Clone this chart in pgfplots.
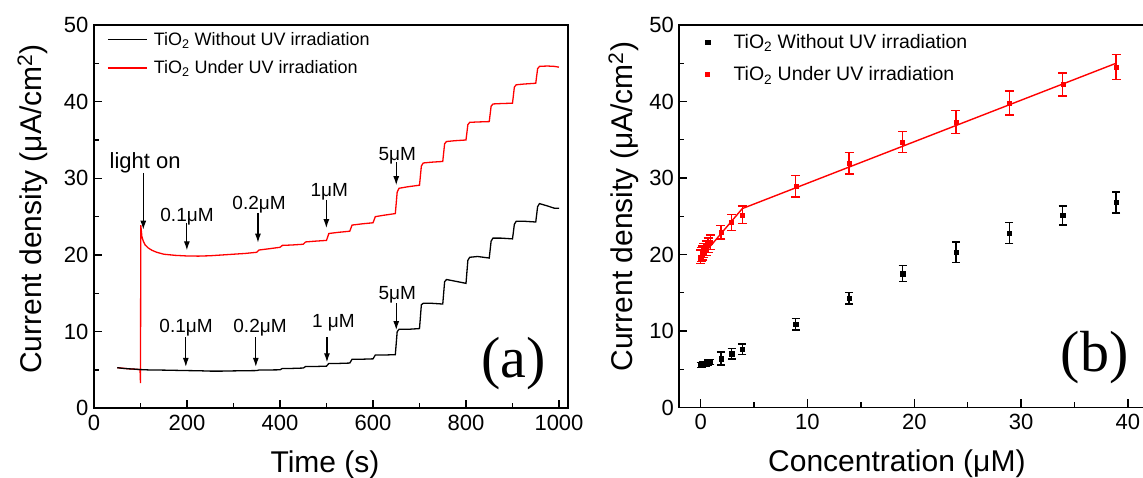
\documentclass[border=0pt]{standalone}
\usepackage{fontspec}
\setmainfont{Liberation Sans}
\newfontfamily\seriffont{Liberation Serif}
\usepackage{pgfplots}
\usepackage{pgfplotstable}
\pgfplotsset{compat=1.18}
\usetikzlibrary{arrows.meta}

\pgfplotstableread{
t y
50 5.30
60 5.22
75 5.15
90 5.10
100 5.05
120 5.00
150 4.98
175 4.95
200 4.92
225 4.90
250 4.85
275 4.85
300 4.88
325 4.90
350 4.92
355 5.00
375 5.00
400 5.02
405 5.20
425 5.20
450 5.25
455 5.45
475 5.45
500 5.50
505 5.85
525 5.85
550 5.90
555 6.40
575 6.40
600 6.45
605 6.95
625 6.95
648 7.00
652 10.0
656 10.3
675 10.3
700 10.4
704 13.5
708 13.7
725 13.7
750 13.6
754 16.5
758 16.8
775 16.6
800 16.3
804 19.3
808 19.7
825 19.8
850 19.6
854 21.8
858 22.2
875 22.2
900 22.1
904 24.0
908 24.4
925 24.4
950 24.3
954 26.3
958 26.7
975 26.4
990 26.1
1000 26.1
}\blackcurve

\pgfplotstableread{
t y
50 5.30
75 5.15
99 5.05
100 3.3
100.6 23.9
103 22.4
106 21.8
110 21.3
117 20.9
125 20.6
135 20.35
150 20.1
175 19.95
200 19.87
225 19.85
250 19.9
275 20.0
300 20.1
325 20.2
350 20.35
355 20.65
375 20.8
400 21.0
405 21.25
425 21.3
450 21.4
455 21.7
475 21.8
500 21.9
505 22.8
525 22.95
550 23.1
555 23.9
575 24.05
600 24.2
605 25.0
625 25.2
648 25.4
652 28.2
656 28.7
675 28.9
700 29.1
704 31.6
708 32.0
725 32.1
750 32.2
754 34.5
758 34.8
775 34.9
800 35.0
804 37.0
808 37.3
825 37.35
850 37.4
854 39.4
858 39.7
875 39.75
900 39.8
904 41.9
908 42.2
925 42.3
950 42.4
954 44.3
958 44.6
975 44.65
990 44.6
1000 44.5
}\redcurve

\pgfplotstableread{
x y e
0 5.55 0.3
0.1 5.6 0.3
0.2 5.65 0.3
0.3 5.7 0.3
0.5 5.75 0.3
0.7 5.85 0.35
0.9 5.95 0.35
1.9 6.4 0.85
2.9 7.05 0.7
3.9 7.6 0.7
8.9 10.9 0.77
13.9 14.3 0.75
18.9 17.5 1.05
23.9 20.3 1.35
28.9 22.8 1.4
33.9 25.1 1.25
38.9 26.8 1.35
}\blackpts

\pgfplotstableread{
x y e
0 19.7 0.9
0.1 20.0 0.9
0.2 20.2 0.9
0.3 20.5 0.9
0.5 20.8 0.95
0.7 21.2 0.95
0.9 21.6 0.95
1.9 22.9 0.9
2.9 24.2 1.05
3.9 25.2 1.15
8.9 28.9 1.4
13.9 31.9 1.4
18.9 34.7 1.4
23.9 37.3 1.5
28.9 39.8 1.55
33.9 42.2 1.5
38.9 44.5 1.65
}\redpts

\pgfplotstableread{
x y
0 19.6
3.9 26.0
38.9 45.0
}\redfit

\pgfplotsset{
  common/.style={
    scale only axis,
    axis line style={line width=1.8pt},
    tick align=inside,
    tick pos=left,
    every tick/.style={line width=1.4pt, black},
    major tick length=8pt,
    minor tick length=5pt,
    minor x tick num=1,
    minor y tick num=1,
    ymin=0, ymax=50,
    ytick={0,10,20,30,40,50},
    scaled ticks=false,
    /pgf/number format/assume math mode=true,
    /pgf/number format/1000 sep={},
    tick label style={font=\fontsize{22}{26}\selectfont},
    xticklabel style={yshift=-3pt},
    yticklabel style={xshift=-2pt},
    label style={font=\fontsize{30}{34}\selectfont},
  }
}

\begin{document}
\begin{tikzpicture}[x=1pt,y=1pt]
\useasboundingbox (0,0) rectangle (1143,478);

\begin{axis}[common,
  at={(94pt,69.7pt)}, anchor=south west,
  width=474.3pt, height=383.3pt,
  xmin=0, xmax=1020,
  xtick={0,200,400,600,800,1000},
  xlabel={Time (s)},
  ylabel={Current density (μA/cm\textsuperscript{2})},
  xlabel style={at={(axis description cs:0.487,-0.147)}, anchor=center},
  ylabel style={at={(axis description cs:-0.13,0.52)}, anchor=center},
  reverse legend,
  legend cell align=left,
  legend style={at={(axis description cs:0,1)}, anchor=north west,
    xshift=10pt, yshift=-3pt, draw=none, fill=none,
    font=\fontsize{18}{21}\selectfont, row sep=10pt,
    nodes={inner sep=2pt}},
  legend image code/.code={\path[draw=none] (0pt,0pt) -- (44pt,0pt); \draw[#1] (0pt,0pt) -- (39pt,0pt);},
]
\addplot[red, line width=1.3pt] table[x=t,y=y] {\redcurve};
\addlegendentry{TiO\textsubscript{2} Under UV irradiation}
\addplot[black, line width=1.3pt] table[x=t,y=y] {\blackcurve};
\addlegendentry{TiO\textsubscript{2} Without UV irradiation}

\node[font=\fontsize{22}{26}\selectfont] at (axis cs:110,32.0) {light on};
\draw[line width=1.2pt, -{Latex[length=9pt,width=6pt]}] (axis cs:106,30.7) -- (axis cs:106,23.3);

\begin{scope}[font=\fontsize{19}{22}\selectfont]
\node at (axis cs:200,24.95) {0.1μM};
\draw[line width=1.2pt, -{Latex[length=9pt,width=6pt]}] (axis cs:199.7,24.2) -- (axis cs:199.7,20.6);
\node at (axis cs:355,26.5) {0.2μM};
\draw[line width=1.2pt, -{Latex[length=9pt,width=6pt]}] (axis cs:352.6,25.5) -- (axis cs:352.6,21.6);
\node at (axis cs:506,28.2) {1μM};
\draw[line width=1.2pt, -{Latex[length=9pt,width=6pt]}] (axis cs:499.7,27.2) -- (axis cs:499.7,23.5);
\node at (axis cs:652,33.0) {5μM};
\draw[line width=1.2pt, -{Latex[length=9pt,width=6pt]}] (axis cs:650,32.1) -- (axis cs:650,29.1);

\node at (axis cs:198,10.5) {0.1μM};
\draw[line width=1.2pt, -{Latex[length=9pt,width=6pt]}] (axis cs:197.5,9.3) -- (axis cs:197.5,5.4);
\node at (axis cs:357,10.5) {0.2μM};
\draw[line width=1.2pt, -{Latex[length=9pt,width=6pt]}] (axis cs:348,9.3) -- (axis cs:348,5.4);
\node at (axis cs:515,11.1) {1 μM};
\draw[line width=1.2pt, -{Latex[length=9pt,width=6pt]}] (axis cs:501,9.3) -- (axis cs:501,6.0);
\node at (axis cs:652,14.8) {5μM};
\draw[line width=1.2pt, -{Latex[length=9pt,width=6pt]}] (axis cs:650,13.7) -- (axis cs:650,10.2);
\end{scope}

\node[font=\seriffont\fontsize{58}{60}\selectfont] at (axis cs:902,5.9) {(a)};
\end{axis}

\begin{axis}[common,
  at={(679.3pt,70.5pt)}, anchor=south west,
  width=469.9pt, height=382.5pt,
  xmin=-2, xmax=42,
  xtick={0,10,20,30,40},
  xlabel={Concentration (μM)},
  ylabel={Current density (μA/cm\textsuperscript{2})},
  xlabel style={at={(axis description cs:0.463,-0.148)}, anchor=center},
  ylabel style={at={(axis description cs:-0.119,0.525)}, anchor=center},
  legend cell align=left,
  legend style={at={(axis description cs:0,1)}, anchor=north west,
    xshift=11pt, yshift=-5pt, draw=none, fill=none,
    font=\fontsize{19.5}{23}\selectfont, row sep=13pt,
    nodes={inner sep=2pt}},
  legend image code/.code={\path[draw=none] (-14pt,0pt) -- (24pt,0pt); \draw[#1, draw=none] plot coordinates {(0pt,0pt)}; \path[#1, only marks] plot coordinates {(0pt,0pt)};},
]
\addplot[black, only marks, mark=square*, mark size=2.2pt,
  error bars/.cd, y dir=both, y explicit,
  error bar style={line width=1.4pt},
  error mark options={rotate=90, mark size=4pt, line width=1.4pt}]
  table[x=x,y=y,y error=e] {\blackpts};
\addlegendentry{TiO\textsubscript{2} Without UV irradiation}
\addplot[red, only marks, mark=square*, mark size=2.0pt,
  error bars/.cd, y dir=both, y explicit,
  error bar style={line width=1.4pt},
  error mark options={rotate=90, mark size=4.5pt, line width=1.4pt}]
  table[x=x,y=y,y error=e] {\redpts};
\addlegendentry{TiO\textsubscript{2} Under UV irradiation}
\addplot[red, line width=1.4pt, forget plot] table[x=x,y=y] {\redfit};

\node[font=\seriffont\fontsize{58}{60}\selectfont] at (axis cs:36.9,6.5) {(b)};
\end{axis}
\end{tikzpicture}
\end{document}
